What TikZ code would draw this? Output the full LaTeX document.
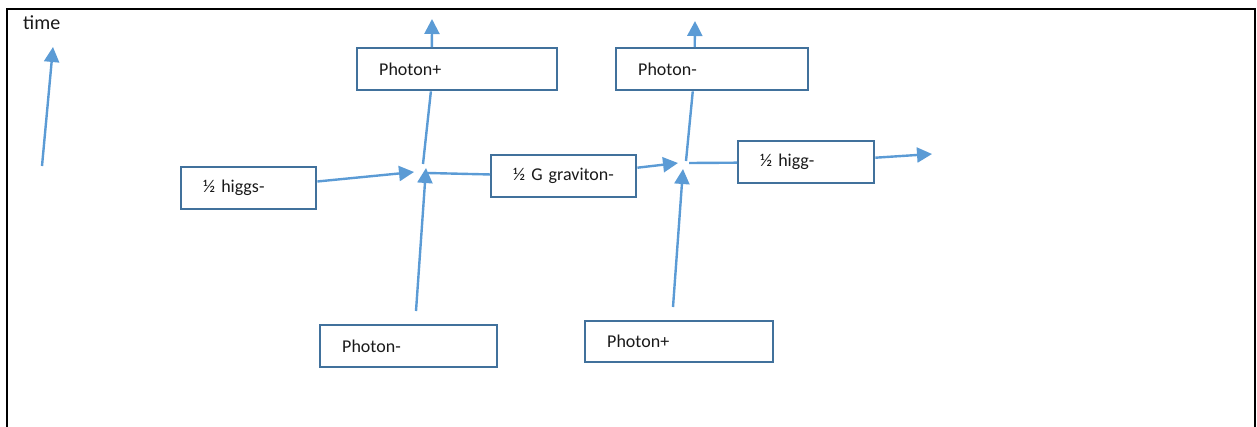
\documentclass[tikz,border=0pt]{standalone}
\usepackage{fontspec}
\setmainfont{Carlito}
\usetikzlibrary{arrows.meta,calc}
\definecolor{arrblue}{HTML}{5B9BD5}
\definecolor{boxblue}{HTML}{41719C}
\definecolor{txt}{HTML}{1A1A1A}
\tikzset{
  box/.style={draw=boxblue, line width=2.4pt, fill=white, anchor=north west,
    inner xsep=22pt, inner ysep=0pt, align=left, font=\fontsize{18}{20}\selectfont,
    text=txt},
  arr/.style={draw=arrblue, line width=2.4pt, -{Triangle[length=15pt,width=15pt]}},
  ln/.style={draw=arrblue, line width=2.4pt}
}
\begin{document}
\begin{tikzpicture}[x=1pt,y=-1pt]
\useasboundingbox (0,0) rectangle (1257,426);
% frame
\draw[line width=2.6pt, black] (7,428) -- (7,9) -- (1255,9) -- (1255,428);
% time
\node[anchor=base west, inner sep=0pt, font=\fontsize{20}{22}\selectfont, text=txt] (time) at (23,29) {time};
\coordinate (ta) at (42,166);
\coordinate (tb) at (53,47);
\draw[arr] (ta) -- (tb);
% boxes
\node[box, text width=156pt, minimum height=42pt] (pp1) at (356,47) {Photon+};
\node[box, text width=148pt, minimum height=42pt] (pm1) at (615,47) {Photon-};
\node[box, text width=91pt, minimum height=42pt] (hg1) at (180,166) {½ higgs-};
\node[box, text width=101pt, minimum height=42pt] (gr) at (490,154) {½ G graviton-};
\node[box, text width=92pt, minimum height=42pt] (hg2) at (737,140) {½ higg-};
\node[box, text width=133pt, minimum height=42pt] (pm2) at (319,324) {Photon-};
\node[box, text width=144pt, minimum height=41pt] (pp2) at (584,320) {Photon+};
% vertex 1
\coordinate (v1a) at (414,172);   % tip of higgs arrow
\coordinate (v1b) at (426,168);   % tip of bottom arrow
\coordinate (v1c) at (423,164);   % end of upper line
\coordinate (v1d) at (428,173);   % end of graviton line
\coordinate (b1) at (416,311);
\coordinate (t1) at (432,19);
\draw[arr] (hg1) -- (v1a);
\draw[arr] (b1) -- (v1b);
\draw[ln] (v1c) -- ($(pp1.south west)!0.37!(pp1.south east)$);
\draw[ln] (gr) -- (v1d);
\draw[arr] ($(pp1.north west)!0.375!(pp1.north east)$) -- (t1);
% vertex 2
\coordinate (v2a) at (678,163);
\coordinate (v2b) at (683,169);
\coordinate (v2c) at (686,161);
\coordinate (v2d) at (689,163);
\coordinate (b2) at (673,307);
\coordinate (t2) at (695,21);
\coordinate (r2) at (932,154);
\draw[arr] (gr) -- (v2a);
\draw[arr] (b2) -- (v2b);
\draw[ln] (v2c) -- ($(pm1.south west)!0.40!(pm1.south east)$);
\draw[ln] (v2d) -- (hg2);
\draw[arr] ($(pm1.north west)!0.41!(pm1.north east)$) -- (t2);
\draw[arr] (hg2) -- (r2);
\end{tikzpicture}
\end{document}
